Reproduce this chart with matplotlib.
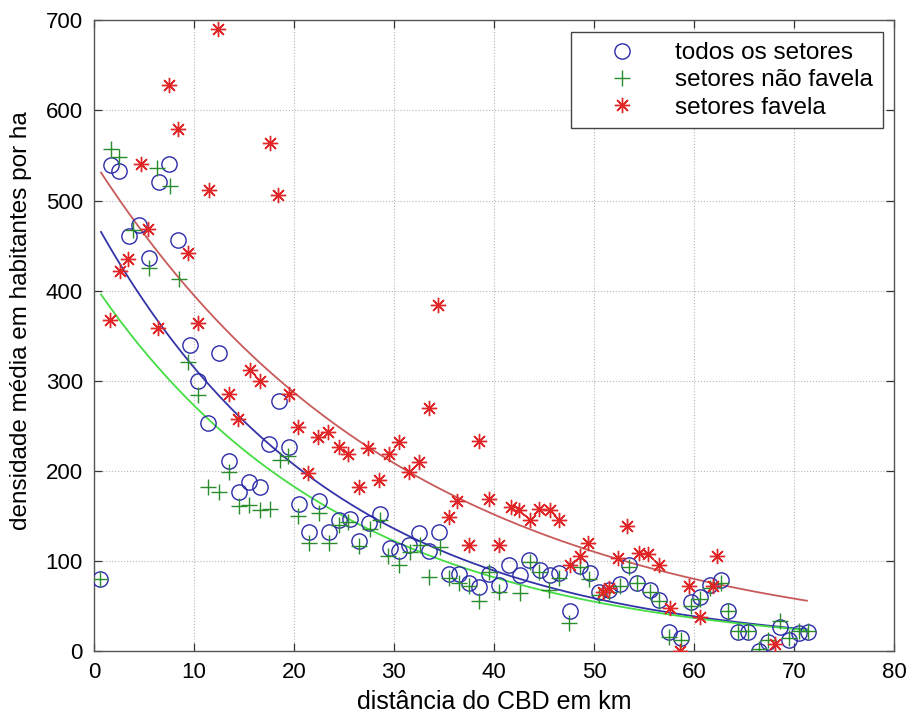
import numpy as np
import matplotlib
matplotlib.use('Agg')
import matplotlib.pyplot as plt

plt.rcParams['font.family'] = ['Liberation Sans', 'DejaVu Sans']

# todos os setores (blue circles)
todos_x = [0.6, 1.7, 2.5, 3.5, 4.5, 5.5, 6.5, 7.5, 8.4, 9.6, 10.4, 11.4, 12.5, 13.5,
           14.5, 15.5, 16.6, 17.5, 18.5, 19.5, 20.5, 21.5, 22.5, 23.5, 24.5, 25.6,
           26.5, 27.5, 28.6, 29.6, 30.5, 31.5, 32.5, 33.5, 34.5, 35.5, 36.5, 37.5,
           38.5, 39.5, 40.5, 41.5, 42.6, 43.5, 44.6, 45.6, 46.5, 47.6, 48.6, 49.6,
           50.5, 51.5, 52.6, 53.5, 54.3, 55.6, 56.5, 57.5, 58.7, 59.7, 60.6, 61.6,
           62.7, 63.4, 64.4, 65.4, 66.5, 67.4, 68.6, 69.5, 70.5, 71.4]
todos_y = [80, 539, 533, 461, 473, 436, 520, 541, 456, 340, 300, 253, 331, 211,
           176, 188, 182, 230, 277, 226, 163, 132, 166, 132, 145, 147,
           122, 142, 152, 114, 111, 118, 131, 111, 132, 86, 86, 75,
           71, 85, 73, 95, 84, 101, 90, 84, 87, 44, 94, 87,
           66, 68, 74, 95, 75, 68, 57, 21, 15, 54, 60, 73,
           79, 44, 21, 21, 0, 10, 27, 12, 20, 21]

# setores nao favela (green plus)
naofav_x = [0.6, 1.7, 2.5, 3.9, 5.5, 6.3, 7.6, 8.5, 9.4, 10.4, 11.4, 12.5, 13.5,
            14.5, 15.5, 16.6, 17.6, 18.6, 19.4, 20.4, 21.5, 22.5, 23.5, 24.5, 25.4,
            26.5, 27.6, 28.6, 29.4, 30.5, 31.6, 32.6, 33.5, 34.6, 35.5, 36.5, 37.5,
            38.5, 39.5, 40.5, 42.6, 43.6, 44.5, 45.5, 46.5, 47.5, 48.6, 49.5, 50.5,
            51.5, 52.6, 53.5, 54.3, 55.6, 56.5, 57.5, 58.7, 59.7, 60.6, 61.6, 62.7,
            63.4, 64.4, 65.4, 66.5, 67.4, 68.6, 69.5, 70.5, 71.4]
naofav_y = [80, 557, 548, 467, 425, 536, 516, 413, 321, 284, 182, 177, 199,
            161, 162, 156, 158, 212, 217, 150, 120, 153, 120, 140, 143,
            117, 136, 145, 105, 95, 110, 118, 82, 116, 81, 75, 72,
            55, 88, 66, 64, 99, 88, 68, 81, 31, 93, 80, 62,
            66, 72, 93, 76, 65, 55, 16, 12, 50, 58, 70, 75,
            44, 22, 22, 2, 12, 33, 14, 22, 22]

# setores favela (red asterisks)
fav_x = [1.6, 2.6, 3.4, 4.7, 5.4, 6.4, 7.5, 8.4, 9.4, 10.4, 11.5, 12.4, 13.5,
         14.4, 15.6, 16.6, 17.6, 18.4, 19.5, 20.4, 21.4, 22.4, 23.4, 24.5, 25.4,
         26.5, 27.4, 28.5, 29.5, 30.5, 31.5, 32.5, 33.5, 34.4, 35.5, 36.3, 37.5,
         38.5, 39.5, 40.5, 41.7, 42.5, 43.6, 44.5, 45.6, 46.5, 47.6, 48.6, 49.4,
         50.9, 51.5, 52.4, 53.3, 54.5, 55.4, 56.5, 57.6, 58.6, 59.5, 60.6, 61.9,
         62.3, 68.1]
fav_y = [367, 422, 435, 541, 468, 358, 628, 579, 442, 364, 512, 690, 285,
         258, 312, 300, 564, 506, 285, 249, 198, 238, 243, 226, 219,
         182, 225, 190, 219, 232, 199, 210, 270, 384, 149, 166, 118,
         233, 169, 118, 160, 156, 145, 158, 156, 145, 95, 105, 120,
         66, 70, 103, 139, 109, 108, 95, 48, 0, 72, 38, 72,
         105, 8]

# exponential trend curves y = a*exp(-b*x): todos, nao favela, favela
trend_a = [479, 407, 543]
trend_b = [0.042, 0.0401, 0.0319]
trend_range = (0.7, 71.3)

labels = ['todos os setores', 'setores não favela', 'setores favela']
marker_colors = ['#2b2ba8', '#2a8c2a', '#e02626']
curve_colors = ['#3434a8', '#44dd44', '#c85a5a']

fig = plt.figure(figsize=(9.09, 7.25), dpi=100)
ax = fig.add_axes([0.1034, 0.102, 0.88, 0.870])

# curves
xc = np.linspace(trend_range[0], trend_range[1], 300)
for a, b, c in zip(trend_a, trend_b, curve_colors):
    ax.plot(xc, a * np.exp(-b * xc), color=c, lw=1.3, zorder=2)

ax.plot(todos_x, todos_y, linestyle='none', marker='o', markersize=11,
        markerfacecolor='none', markeredgecolor=marker_colors[0], markeredgewidth=1.0,
        label=labels[0], zorder=3)
ax.plot(naofav_x, naofav_y, linestyle='none', marker='+', markersize=12,
        color=marker_colors[1], markeredgewidth=1.0, label=labels[1], zorder=3)
ax.plot(fav_x, fav_y, linestyle='none', marker=(8, 2, 0), markersize=11,
        color=marker_colors[2], markeredgewidth=1.0, label=labels[2], zorder=3)

ax.set_xlim(0, 80)
ax.set_ylim(0, 700)
ax.set_xticks(np.arange(0, 81, 10))
ax.set_yticks(np.arange(0, 701, 100))
ax.grid(True, linestyle=':', color='#b8b8b8', lw=0.8)
ax.tick_params(direction='in', top=True, right=True, length=6, width=0.9,
               color='#333333', labelsize=16, pad=8)
for sp in ax.spines.values():
    sp.set_color('#555555')
    sp.set_linewidth(1.0)

ax.set_xlabel('distância do CBD em km', fontsize=18, labelpad=5)
ax.set_ylabel('densidade média em habitantes por ha', fontsize=17.5)
ax.yaxis.set_label_coords(-0.077, 0.524)

leg = ax.legend(loc='upper right', bbox_to_anchor=(0.986, 0.981), fontsize=17.5,
                numpoints=1, fancybox=False, framealpha=1, edgecolor='#444444',
                borderpad=0.4, handlelength=3.4, handletextpad=0.5,
                labelspacing=0.22, borderaxespad=0)
leg.get_frame().set_linewidth(1.0)

fig.savefig('out.png', dpi=100)
